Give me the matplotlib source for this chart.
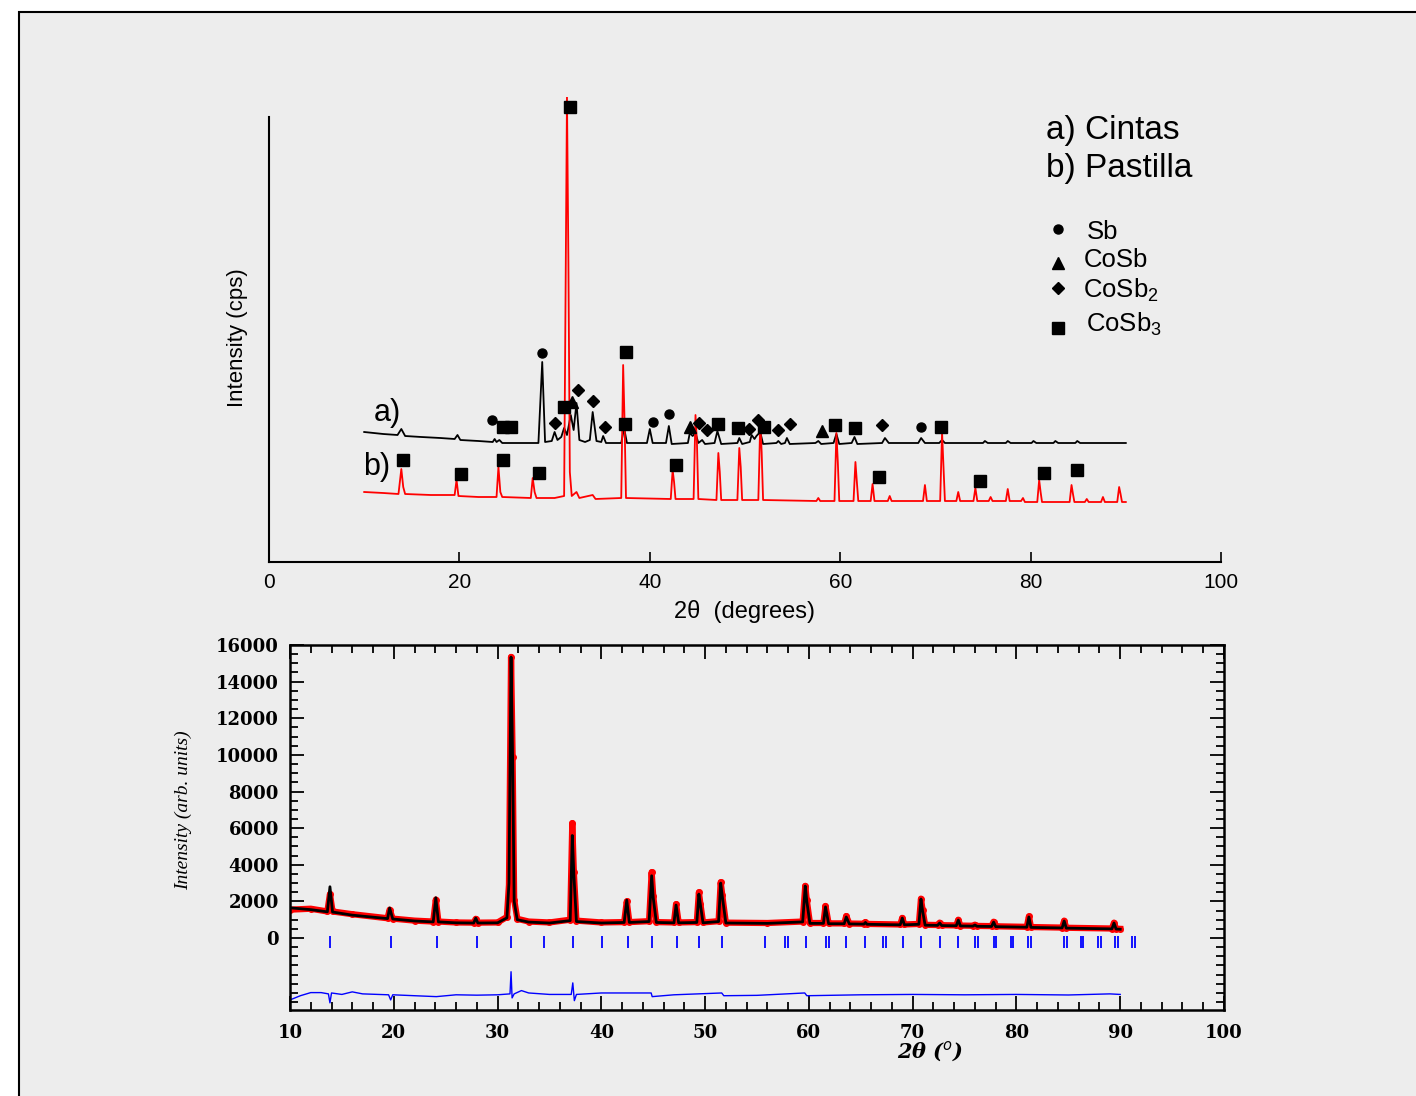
import numpy as np
import matplotlib.pyplot as plt
from matplotlib.patches import Rectangle
from matplotlib.ticker import MultipleLocator

plt.rcParams['font.family'] = ['Liberation Sans', 'DejaVu Sans']
plt.rcParams['mathtext.fontset'] = 'custom'
plt.rcParams['mathtext.rm'] = 'Liberation Sans'

# ---- top panel: XRD patterns (arbitrary cps units) ----
a_x = [10.0, 11.0, 12.0, 13.5, 13.9, 14.3, 16.0, 18.0, 19.5, 19.8, 20.1, 22.0, 23.5, 23.7, 23.9, 24.2, 24.5,
       26.0, 28.3, 28.7, 29.0, 29.7, 30.0, 30.3, 30.7, 31.0, 31.3, 31.7, 32.0, 32.3, 32.6, 33.2, 33.7, 34.0,
       34.4, 34.9, 35.1, 35.4, 37.0, 37.3, 37.6, 39.7, 40.0, 40.3, 41.7, 42.0, 42.3, 44.0, 44.2, 44.5, 44.8,
       45.1, 45.5, 45.8, 46.8, 47.1, 47.5, 49.2, 49.4, 49.7, 50.5, 50.7, 51.0, 51.2, 51.6, 51.9, 53.3, 53.5,
       53.8, 54.2, 54.4, 54.7, 57.4, 57.7, 58.0, 59.3, 59.6, 59.9, 61.2, 61.5, 61.8, 64.4, 64.7, 65.1, 68.2,
       68.5, 68.9, 70.4, 70.7, 71.0, 75.0, 75.2, 75.5, 77.4, 77.6, 77.9, 80.1, 80.3, 80.6, 82.4, 82.6, 82.9,
       84.7, 84.9, 85.2, 90.0]
a_y = [130, 129, 128, 127, 133, 126, 125, 124, 123, 127, 122, 121, 120, 123, 120, 122, 119,
       119, 119, 200, 120, 121, 130, 122, 125, 134, 127, 147, 132, 159, 122, 120, 122, 150,
       121, 120, 126, 119, 119, 134, 119, 119, 133, 119, 119, 136, 118, 119, 129, 126, 129,
       119, 122, 118, 119, 131, 118, 119, 124, 118, 120, 127, 123, 126, 130, 118, 119, 121,
       118, 119, 124, 118, 119, 121, 118, 119, 128, 118, 119, 125, 118, 119, 124, 119, 119,
       124, 119, 119, 122, 119, 119, 121, 119, 119, 121, 119, 119, 121, 119, 119, 121, 119,
       119, 121, 119, 119]

b_x = [10.0, 12.0, 13.6, 13.9, 14.1, 14.3, 17.0, 19.5, 19.7, 19.9, 22.0, 23.9, 24.1, 24.3, 24.5, 27.5,
       27.7, 27.9, 28.1, 30.0, 31.0, 31.3, 31.45, 31.6, 31.8, 32.3, 32.6, 34.0, 34.3, 37.0, 37.2, 37.35,
       37.5, 42.2, 42.4, 42.55, 42.7, 44.6, 44.8, 44.95, 45.1, 47.0, 47.2, 47.35, 47.5, 49.2, 49.4, 49.55,
       49.7, 51.4, 51.6, 51.75, 51.9, 57.5, 57.7, 57.9, 59.4, 59.6, 59.75, 59.9, 61.4, 61.6, 61.75, 61.9,
       63.2, 63.4, 63.6, 65.0, 65.2, 65.4, 68.7, 68.9, 69.1, 70.5, 70.7, 70.85, 71.0, 72.2, 72.4, 72.6,
       74.0, 74.2, 74.4, 75.6, 75.8, 76.0, 77.4, 77.6, 77.8, 79.0, 79.2, 79.4, 80.7, 80.9, 81.05, 81.2,
       84.1, 84.3, 84.45, 84.6, 85.7, 85.9, 86.1, 87.4, 87.6, 87.8, 89.1, 89.3, 89.45, 89.6, 90.0]
b_y = [70, 69, 68, 93, 75, 68, 67, 67, 82, 66, 65, 65, 95, 70, 65, 64,
       84, 70, 64, 64, 66, 465, 300, 90, 66, 70, 64, 67, 63, 64, 197, 140,
       64, 63, 92, 80, 63, 63, 147, 120, 63, 62, 109, 90, 62, 62, 114, 95,
       62, 62, 139, 110, 62, 61, 64, 61, 61, 129, 100, 61, 61, 100, 80, 61,
       61, 78, 61, 61, 66, 61, 61, 77, 61, 61, 130, 95, 61, 61, 70, 61,
       61, 74, 61, 61, 65, 61, 61, 73, 61, 61, 64, 60, 60, 82, 70, 60,
       60, 77, 68, 60, 60, 63, 60, 60, 65, 60, 60, 75, 68, 60, 60]

# phase markers: (2theta, height)
sq_x = [24.58, 25.42, 30.99, 37.39, 47.16, 49.26, 52.0, 59.45, 61.55, 70.59,
        14.08, 20.17, 24.58, 28.36, 31.62, 37.5, 42.75, 64.08, 74.68, 81.41, 84.87]
sq_y = [135, 135, 155, 138, 138, 134, 135, 137, 134, 135,
        102, 88, 102, 89, 455, 210, 97, 85, 81, 89, 92]
ci_x = [23.42, 28.68, 40.34, 42.02, 68.49]
ci_y = [142, 209, 140, 148, 135]
tr_x = [31.83, 44.22, 58.09]
tr_y = [160, 135, 131]
di_x = [30.04, 32.46, 34.03, 35.29, 45.17, 46.01, 50.42, 51.37, 53.47, 54.73, 64.39]
di_y = [139, 172, 161, 135, 139, 132, 133, 142, 132, 138, 137]

# ---- bottom panel: Rietveld refinement ----
calc_x = [10, 12, 13.6, 13.85, 14.1, 16, 19.4, 19.6, 19.9, 22, 23.8, 24.05, 24.3, 26, 27.7, 27.9, 28.1,
          30, 30.9, 31.1, 31.3, 31.45, 31.6, 31.9, 33, 35, 37.0, 37.2, 37.35, 37.6, 40, 42.2, 42.45,
          42.7, 44.6, 44.85, 45.0, 45.3, 47.0, 47.2, 47.45, 49.2, 49.4, 49.55, 49.8, 51.3, 51.5, 51.65,
          52.0, 56, 59.4, 59.65, 59.8, 60.1, 61.4, 61.6, 61.9, 63.4, 63.6, 63.9, 65.3, 65.45, 65.6, 68.8,
          69.0, 69.2, 70.6, 70.8, 70.95, 71.2, 72.4, 72.6, 72.8, 74.2, 74.4, 74.6, 75.8, 76.0, 76.2, 77.6,
          77.8, 78.0, 81.0, 81.2, 81.4, 84.4, 84.6, 84.8, 89.2, 89.4, 89.6, 90]
calc_y = [1650, 1550, 1430, 2800, 1420, 1250, 1060, 1640, 1040, 930, 880, 2200, 880, 830, 820, 1090, 820,
          830, 1100, 3000, 15340, 9880, 2000, 1000, 870, 820, 950, 5600, 3500, 900, 820, 850, 2070,
          850, 900, 3400, 2200, 850, 830, 1800, 830, 850, 2400, 1800, 830, 900, 3000, 2300,
          820, 800, 880, 2840, 2000, 800, 800, 1700, 780, 780, 1150, 770, 760, 850, 750, 720,
          1090, 720, 750, 2130, 1500, 700, 690, 820, 680, 670, 980, 660, 650, 710, 640, 630,
          870, 620, 590, 1150, 580, 550, 930, 540, 500, 820, 490, 480]
obs_y = [1550, 1600, 1450, 2400, 1450, 1300, 1080, 1550, 1060, 950, 900, 2100, 900, 850, 840, 1050, 840,
         850, 1150, 2900, 15350, 9900, 2100, 1050, 900, 850, 1000, 6270, 3600, 950, 850, 870, 2000,
         870, 920, 3600, 2300, 870, 850, 1850, 850, 870, 2500, 1850, 850, 920, 3050, 2350,
         840, 820, 900, 2850, 2050, 820, 820, 1750, 800, 800, 1200, 790, 780, 870, 770, 740,
         1100, 740, 770, 2150, 1550, 720, 710, 840, 700, 690, 1000, 680, 670, 730, 660, 650,
         890, 640, 610, 1180, 600, 570, 950, 560, 520, 840, 510, 500]

bragg = [13.85, 19.73, 24.16, 28.02, 31.25, 34.48, 37.28, 40.06, 42.56, 44.88, 47.3, 49.45, 51.65,
         55.8, 57.7, 57.95, 59.75, 61.65, 61.9, 63.6, 65.45, 67.15, 67.4, 69.1, 70.85, 72.65, 74.4,
         76.05, 76.3, 77.8, 78.05, 79.45, 79.7, 81.15, 81.4, 84.6, 84.85, 86.2, 86.45, 87.85, 88.1,
         89.5, 89.75, 91.15, 91.4]

diff_x = [10, 11, 12, 13, 13.7, 13.85, 14.0, 15, 16, 17, 19.5, 19.7, 19.9, 22, 24.1, 26, 28, 30, 31.2,
          31.3, 31.4, 31.6, 32.3, 33, 35, 37.1, 37.25, 37.4, 37.6, 40, 44.8, 44.9, 47, 51.6, 51.8, 55,
          59.6, 59.8, 65, 70, 75, 80, 85, 89, 90]
diff_y = [-3380, -3150, -2980, -2980, -3050, -3540, -3000, -3080, -2940, -3050, -3100, -3380, -3100,
          -3150, -3200, -3100, -3120, -3100, -3050, -1840, -3270, -3050, -2870, -3000, -3080, -3080,
          -2450, -3420, -3080, -3000, -3000, -3200, -3100, -3000, -3150, -3130, -3000, -3150, -3100,
          -3080, -3100, -3080, -3110, -3050, -3080]

W, H = 1416, 1096
fig = plt.figure(figsize=(W / 100, H / 100), dpi=100)
fig.patch.set_facecolor('white')
fig.add_artist(Rectangle((19 / W, -0.1), 1.2, 1.1 - 12 / H, transform=fig.transFigure,
                         facecolor='#ededed', edgecolor='black', lw=1.5, zorder=0))

# top axes: px 269..1221 (x), 97..562 (y)
ax = fig.add_axes([269 / W, 1 - 562 / H, 952 / W, 465 / H])
ax.set_facecolor('none')
ax.plot(a_x, a_y, color='black', lw=1.3)
ax.plot(b_x, b_y, color='red', lw=1.3)
ax.plot(sq_x, sq_y, 's', color='black', ms=9, ls='none', clip_on=False)
ax.plot(ci_x, ci_y, 'o', color='black', ms=6.5, ls='none')
ax.plot(tr_x, tr_y, '^', color='black', ms=8, ls='none')
ax.plot(di_x, di_y, 'D', color='black', ms=6.5, ls='none')
ax.set_xlim(0, 100)
ax.set_ylim(0, 465)
for s in ['top', 'right']:
    ax.spines[s].set_visible(False)
ax.spines['left'].set_bounds(0, 445)
ax.spines['left'].set_linewidth(1.5)
ax.spines['bottom'].set_linewidth(1.5)
ax.set_yticks([])
ax.set_xticks([0, 20, 40, 60, 80, 100])
ax.tick_params(axis='x', direction='in', length=7, width=1.2, labelsize=15, pad=8)
ax.set_xlabel('2θ  (degrees)', fontsize=17, labelpad=6)
ax.set_ylabel('Intensity (cps)', fontsize=16)
ax.yaxis.set_label_coords(-0.022, 0.482)
ax.text(11.0, 149, 'a)', fontsize=22, va='center')
ax.text(9.9, 95, 'b)', fontsize=22, va='center')

# legend block
ax.text(0.816, 0.929, 'a) Cintas', transform=ax.transAxes, fontsize=24, va='center')
ax.text(0.816, 0.847, 'b) Pastilla', transform=ax.transAxes, fontsize=24, va='center')
leg = [('o', 6.5, 0.716, 'Sb', 0.859, 0.710), ('^', 8, 0.643, 'CoSb', 0.856, 0.649),
       ('D', 6, 0.589, 'CoSb$_2$', 0.855, 0.585), ('s', 9, 0.503, 'CoSb$_3$', 0.858, 0.512)]
for m, ms, my, lab, tx, ty in leg:
    ax.plot([0.829], [my], m, color='black', ms=ms, transform=ax.transAxes, clip_on=False)
    ax.text(tx, ty, lab, transform=ax.transAxes, fontsize=18.5, va='center')

# bottom axes: px 290..1224 (x), 645..1010 (y)
bx = fig.add_axes([290 / W, 1 - 1010 / H, 934 / W, 365 / H])
bx.set_facecolor('none')
bx.plot(calc_x, obs_y, color='red', lw=4.5, solid_joinstyle='round')
bx.plot(calc_x, obs_y, 'o', color='red', ms=4, ls='none')
bx.plot(calc_x, calc_y, color='black', lw=2)
bx.vlines(bragg, -545, 110, color='blue', lw=1.3)
bx.plot(diff_x, diff_y, color='blue', lw=1)
bx.set_xlim(10, 100)
bx.set_ylim(-3930, 16000)
bx.set_yticks(np.arange(0, 16001, 2000))
bx.yaxis.set_minor_locator(MultipleLocator(500))
bx.set_xticks(np.arange(10, 101, 10))
bx.xaxis.set_minor_locator(MultipleLocator(2))
for s in bx.spines.values():
    s.set_linewidth(1.8)
bx.tick_params(which='both', direction='in', top=True, right=True, width=1.3)
bx.tick_params(which='major', length=10)
bx.tick_params(which='minor', length=6)
bx.tick_params(axis='y', pad=8)
bx.tick_params(axis='x', pad=10)
for lab in bx.get_xticklabels() + bx.get_yticklabels():
    lab.set_fontfamily('DejaVu Serif')
    lab.set_fontweight('bold')
    lab.set_fontsize(13)
bx.set_xlabel(r'2θ ($^o$)', fontsize=15, fontfamily='DejaVu Serif',
              fontstyle='italic', fontweight='bold')
bx.xaxis.set_label_coords(0.685, -0.08)
bx.set_ylabel('Intensity (arb. units)', fontsize=14, fontfamily='Liberation Serif',
              fontstyle='italic')
bx.yaxis.set_label_coords(-0.105, 0.548)

fig.savefig('out.png', dpi=100)
